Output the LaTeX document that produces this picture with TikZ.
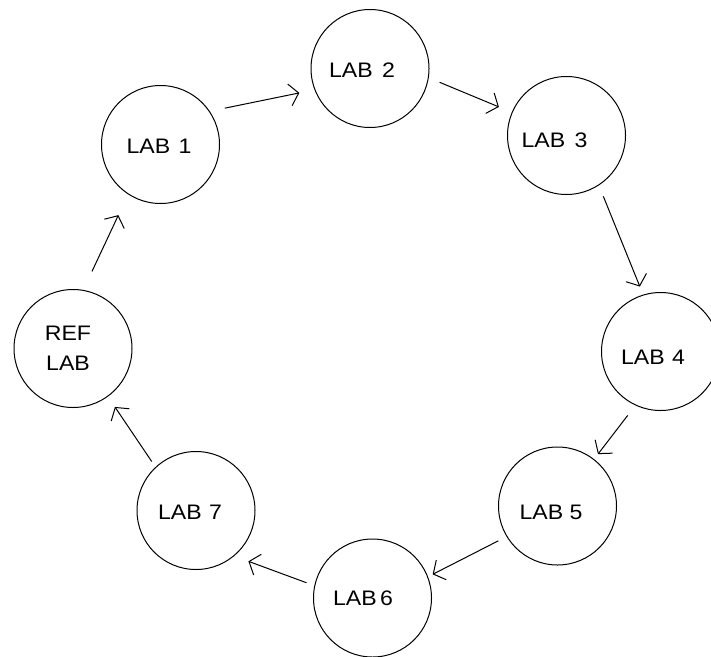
\documentclass[tikz,border=0pt]{standalone}
\usepackage{fontspec}
\newfontfamily\labfont[FakeStretch=1.1]{Liberation Sans}
\usetikzlibrary{arrows.meta}

\tikzset{
  lab/.style={draw=black, line width=1pt, circle, minimum size=118pt, inner sep=0pt},
  labtext/.style={font=\labfont\fontsize{21pt}{30pt}\selectfont, inner sep=0pt, align=center},
  flow/.style={line width=1pt, -{Straight Barb[length=9pt,width=22pt,line width=1pt]}}
}

\begin{document}
\begin{tikzpicture}[x=1pt, y=-1pt]
  \useasboundingbox (0,0) rectangle (711,656);
  \fill[white] (0,0) rectangle (711,656);

  % laboratories on the ring
  \node[lab] (l1) at (160.5,144.5) {};
  \node[lab] (l2) at (370,68.5) {};
  \node[lab] (l3) at (566.5,135.5) {};
  \node[lab] (l4) at (660.5,351.5) {};
  \node[lab] (l5) at (557.5,506) {};
  \node[lab] (l6) at (372.5,598) {};
  \node[lab] (l7) at (196,510.5) {};
  \node[lab] (ref) at (73,348.5) {};

  % names inside the circles
  \node[labtext] (t1) at (159,146) {LAB\hspace{2pt} 1};
  \node[labtext] (t2) at (362,70) {LAB\hspace{3pt} 2};
  \node[labtext] (t3) at (554.5,140) {LAB\hspace{3pt} 3};
  \node[labtext] (t4) at (653,357) {LAB\hspace{1pt} 4};
  \node[labtext] (t5) at (551,512) {LAB 5};
  \node[labtext] (t6) at (363,598) {LAB\hspace{-3pt} 6};
  \node[labtext] (t7) at (190,512) {LAB\hspace{1pt} 7};
  \node[labtext] (tr) at (68,348) {REF\\LAB};

  % circulation of the samples
  \draw[flow, shorten <=15.3pt, shorten >=15.4pt] (l1.34.7) -- (l2.201.4);
  \draw[flow, shorten <=11.8pt, shorten >=13.9pt] (l2.-9.7) -- (l3.157.9);
  \draw[flow, shorten <=11.8pt, shorten >=8.7pt] (l3.-57.1) -- (l4.107.0);
  \draw[flow, shorten <=12.6pt, shorten >=6.3pt] (l4.245.3) -- (l5.52.9);
  \draw[flow, shorten <=9.2pt, shorten >=5.2pt] (l5.211.6) -- (l6.21.6);
  \draw[flow, shorten <=8.3pt, shorten >=15.1pt] (l6.168.2) -- (l7.-50.0);
  \draw[flow, shorten <=6.6pt, shorten >=12.4pt] (l7.133.1) -- (ref.-54.9);
  \draw[flow, shorten <=20.4pt, shorten >=22.9pt] (ref.80.0) -- (l1.237.5);
\end{tikzpicture}
\end{document}
